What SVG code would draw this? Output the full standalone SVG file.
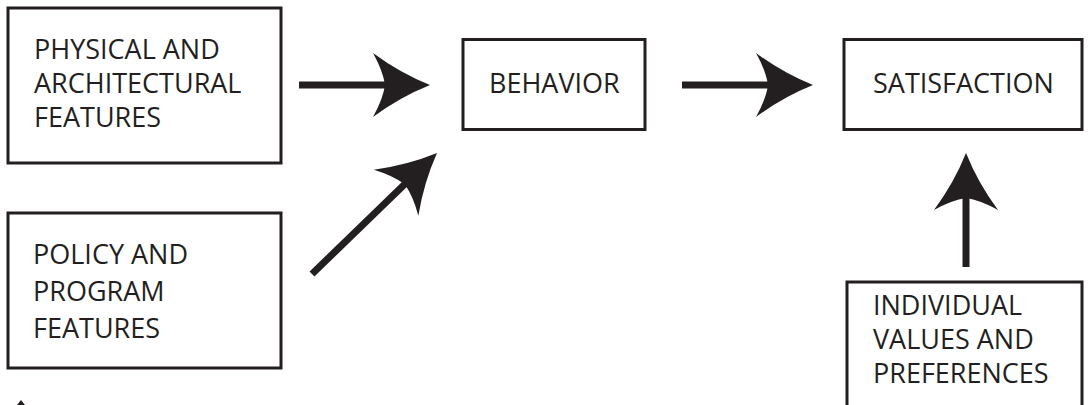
<svg xmlns="http://www.w3.org/2000/svg" width="1088" height="405" viewBox="0 0 1088 405">
<style>
.box{fill:#fff;stroke:#231f20;stroke-width:3}
.lbl{font-family:"Open Sans","Liberation Sans",sans-serif;font-size:27px;fill:#231f20}
.shaft{stroke:#231f20;stroke-width:7;fill:none}
.head{fill:#231f20}
</style>
<defs>
<path id="ah" d="M0,0 Q-30,-12 -57,-32 Q-47,-14 -45,0 Q-47,14 -57,32 Q-30,12 0,0 Z"/>
</defs>
<rect width="1088" height="405" fill="#fff"/>
<g id="physical">
<rect class="box" x="8" y="8" width="273" height="155"/>
<text class="lbl"><tspan x="34" y="59">PHYSICAL AND</tspan><tspan x="34" y="93">ARCHITECTURAL</tspan><tspan x="34" y="127">FEATURES</tspan></text>
</g>
<g id="policy">
<rect class="box" x="8" y="213" width="273" height="155"/>
<text class="lbl"><tspan x="33" y="264">POLICY AND</tspan><tspan x="33" y="301">PROGRAM</tspan><tspan x="33" y="338">FEATURES</tspan></text>
</g>
<g id="behavior">
<rect class="box" x="463" y="39.5" width="182" height="90"/>
<text class="lbl" x="489" y="93">BEHAVIOR</text>
</g>
<g id="satisfaction">
<rect class="box" x="844" y="39.5" width="238" height="90"/>
<text class="lbl" x="873" y="93">SATISFACTION</text>
</g>
<g id="individual">
<rect class="box" x="847" y="282" width="235" height="140"/>
<text class="lbl"><tspan x="873" y="315">INDIVIDUAL</tspan><tspan x="873" y="349">VALUES AND</tspan><tspan x="873" y="383">PREFERENCES</tspan></text>
</g>
<g id="connectors">
<line class="shaft" x1="299" y1="85" x2="388" y2="85"/>
<use href="#ah" class="head" transform="translate(430,85)"/>
<line class="shaft" x1="682" y1="85" x2="771" y2="85"/>
<use href="#ah" class="head" transform="translate(813,85)"/>
<line class="shaft" x1="966" y1="267" x2="966" y2="196"/>
<use href="#ah" class="head" transform="translate(966,153) rotate(-90)"/>
<line class="shaft" x1="312" y1="274" x2="408" y2="181"/>
<use href="#ah" class="head" transform="translate(437,153) rotate(-44.1)"/>
<polygon class="head" points="21,400 25,405 17,405"/>
</g>
</svg>
